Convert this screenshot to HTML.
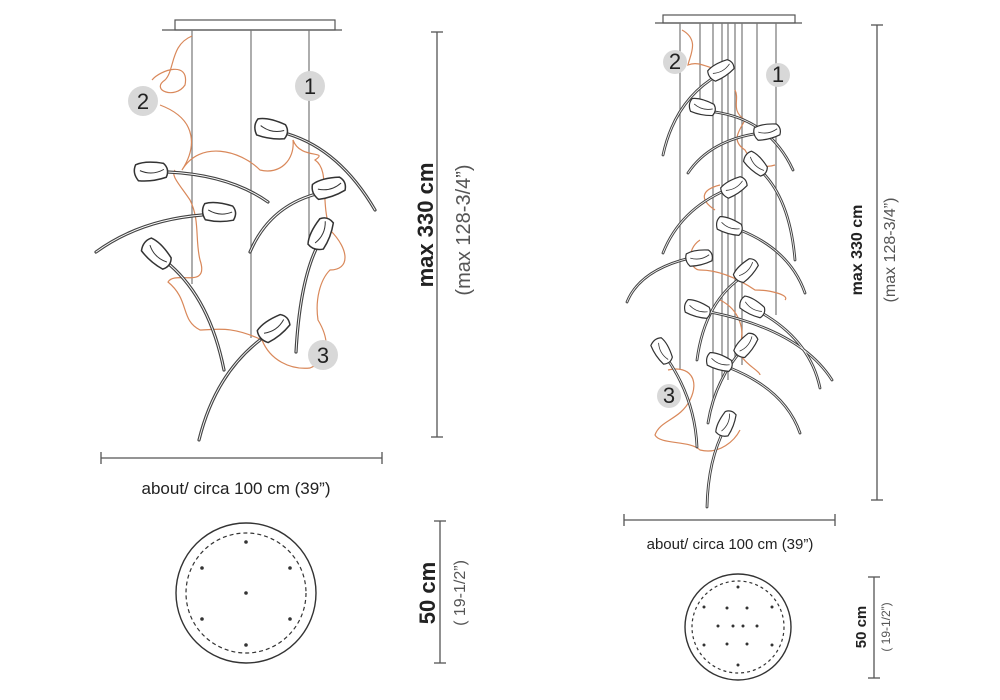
<!DOCTYPE html>
<html><head><style>
html,body{margin:0;padding:0;background:#fff;}
svg{display:block;font-family:"Liberation Sans",sans-serif;}
.w{stroke:#777;stroke-width:1.2;fill:none}
.o{stroke:#d9885a;stroke-width:1.2;fill:none}
.h{fill:#fff;stroke:#333;stroke-width:1.5}
.d{stroke:#555;stroke-width:1.3;fill:none}
.b{fill:#d8d8d8}
.bt{font-size:22px;fill:#222;text-anchor:middle}
</style></head><body>
<svg width="1000" height="700" viewBox="0 0 1000 700">
<defs>
<g id="fl"><path class="h" d="M-16,-8 Q-6,-12 12,-8 Q18,-2 14,6 Q0,10 -14,8 Q-20,0 -16,-8Z"/><path d="M-12,-2 Q0,4 12,-2" stroke="#333" stroke-width="1" fill="none"/></g>
<g id="stL">
<path d="M288,134 Q340,150 375,210"/><path d="M168,172 Q230,175 268,202"/><path d="M202,215 Q140,220 96,252"/><path d="M320,193 Q270,205 250,252"/><path d="M318,245 Q300,280 296,352"/><path d="M170,265 Q210,300 224,370"/><path d="M260,340 Q215,375 199,440"/>
</g>
<g id="stR">
<path d="M718,75 Q675,100 663,155"/><path d="M715,112 Q770,120 793,170"/><path d="M760,133 Q710,140 688,173"/><path d="M762,172 Q790,200 795,260"/><path d="M726,190 Q680,210 663,253"/><path d="M740,230 Q790,250 805,293"/><path d="M690,258 Q640,270 627,302"/><path d="M745,275 Q705,300 697,360"/><path d="M710,312 Q800,330 832,380"/><path d="M760,312 Q810,340 820,388"/><path d="M742,350 Q715,380 708,423"/><path d="M730,368 Q785,390 800,433"/><path d="M668,360 Q695,400 697,447"/><path d="M725,428 Q708,460 707,507"/>
</g>
</defs>

<!-- LEFT -->
<rect x="175" y="20" width="160" height="10" fill="#fff" stroke="#555" stroke-width="1.2"/>
<line x1="162" y1="30" x2="342" y2="30" stroke="#555" stroke-width="1.2"/>
<line class="w" x1="192" y1="30" x2="192" y2="284"/>
<line class="w" x1="251" y1="30" x2="251" y2="338"/>
<line class="w" x1="309" y1="30" x2="309" y2="240"/>
<path class="o" d="M192,36 C170,45 175,70 165,80 C150,90 175,100 185,85 C190,60 160,70 152,80 M160,105 C200,120 195,150 182,170 C200,140 240,150 260,170 C280,175 295,160 293,140 C300,160 330,150 315,160 C330,170 320,200 330,230 C350,250 350,270 330,270 C320,280 315,300 318,320 C330,340 330,360 310,368 C290,370 270,360 262,340 C230,325 215,330 200,330 C180,320 190,300 168,282 C175,270 210,290 200,260 C195,240 200,220 190,200 C180,185 170,175 175,170"/>
<use href="#stL" stroke="#444" stroke-width="3.2" fill="none" stroke-linecap="round"/>
<use href="#stL" stroke="#fff" stroke-width="0.9" fill="none" stroke-linecap="round"/>
<use href="#fl" transform="translate(272,130) rotate(12)"/>
<use href="#fl" transform="translate(152,172) rotate(-3)"/>
<use href="#fl" transform="translate(220,213) rotate(5)"/>
<use href="#fl" transform="translate(330,188) rotate(-15)"/>
<use href="#fl" transform="translate(322,233) rotate(-65)"/>
<use href="#fl" transform="translate(157,255) rotate(45)"/>
<use href="#fl" transform="translate(275,328) rotate(-35)"/>
<circle class="b" cx="310" cy="86" r="15"/><text x="310" y="94" class="bt">1</text>
<circle class="b" cx="143" cy="101" r="15"/><text x="143" y="109" class="bt">2</text>
<circle class="b" cx="323" cy="355" r="15"/><text x="323" y="363" class="bt">3</text>

<line class="d" x1="437" y1="32" x2="437" y2="437"/><line class="d" x1="431" y1="32" x2="443" y2="32"/><line class="d" x1="431" y1="437" x2="443" y2="437"/>
<text transform="translate(433,225) rotate(-90)" text-anchor="middle" font-size="22" font-weight="bold" fill="#222">max 330 cm</text>
<text transform="translate(470,230) rotate(-90)" text-anchor="middle" font-size="20" fill="#555">(max 128-3/4”)</text>
<line class="d" x1="101" y1="458" x2="382" y2="458"/><line class="d" x1="101" y1="452" x2="101" y2="464"/><line class="d" x1="382" y1="452" x2="382" y2="464"/>
<text x="236" y="494" text-anchor="middle" font-size="17" fill="#222">about/ circa 100 cm (39”)</text>
<circle cx="246" cy="593" r="70" fill="none" stroke="#333" stroke-width="1.4"/>
<circle cx="246" cy="593" r="60" fill="none" stroke="#333" stroke-width="1.2" stroke-dasharray="4,3"/>
<g fill="#333"><circle cx="246" cy="542" r="1.8"/><circle cx="246" cy="593" r="1.8"/><circle cx="246" cy="645" r="1.8"/><circle cx="202" cy="568" r="1.8"/><circle cx="290" cy="568" r="1.8"/><circle cx="202" cy="619" r="1.8"/><circle cx="290" cy="619" r="1.8"/></g>
<line class="d" x1="440" y1="521" x2="440" y2="663"/><line class="d" x1="434" y1="521" x2="446" y2="521"/><line class="d" x1="434" y1="663" x2="446" y2="663"/>
<text transform="translate(435,593) rotate(-90)" text-anchor="middle" font-size="22" font-weight="bold" fill="#222">50 cm</text>
<text transform="translate(465,593) rotate(-90)" text-anchor="middle" font-size="16" fill="#555">( 19-1/2”)</text>

<!-- RIGHT -->
<rect x="663" y="15" width="132" height="8" fill="#fff" stroke="#555" stroke-width="1.2"/>
<line x1="655" y1="23" x2="802" y2="23" stroke="#555" stroke-width="1.2"/>
<g class="w"><line x1="680" y1="23" x2="680" y2="370"/><line x1="700" y1="23" x2="700" y2="100"/><line x1="713" y1="23" x2="713" y2="400"/><line x1="722" y1="23" x2="722" y2="380"/><line x1="728" y1="23" x2="728" y2="380"/><line x1="735" y1="23" x2="735" y2="360"/><line x1="742" y1="23" x2="742" y2="365"/><line x1="757" y1="23" x2="757" y2="130"/><line x1="776" y1="23" x2="776" y2="315"/></g>
<path class="o" d="M682,30 C700,40 690,55 688,65 C700,60 710,70 722,70 M735,90 C740,100 730,110 745,120 C740,130 730,140 745,150 C750,160 760,170 775,165 M720,185 C700,190 700,200 715,210 M700,240 C685,250 690,270 700,270 C720,270 740,280 755,290 C770,290 790,295 785,300 M720,300 C740,310 745,330 740,345 C735,360 760,370 760,375 M668,370 C690,365 700,380 690,400 C680,420 660,420 655,435 C660,445 690,440 700,450 C720,455 735,440 740,430"/>
<use href="#stR" stroke="#444" stroke-width="2.8" fill="none" stroke-linecap="round"/>
<use href="#stR" stroke="#fff" stroke-width="0.8" fill="none" stroke-linecap="round"/>
<g transform="scale(0.8)">
<use href="#fl" transform="translate(902.5,87.5) rotate(-30)"/>
<use href="#fl" transform="translate(878.75,135) rotate(15)"/>
<use href="#fl" transform="translate(960,165) rotate(-10)"/>
<use href="#fl" transform="translate(945,206) rotate(45)"/>
<use href="#fl" transform="translate(918.75,233.75) rotate(-30)"/>
<use href="#fl" transform="translate(912.5,283.75) rotate(20)"/>
<use href="#fl" transform="translate(875,322.5) rotate(-10)"/>
<use href="#fl" transform="translate(933.75,337.5) rotate(-45)"/>
<use href="#fl" transform="translate(872.5,387.5) rotate(20)"/>
<use href="#fl" transform="translate(941,385) rotate(30)"/>
<use href="#fl" transform="translate(933.75,431) rotate(-50)"/>
<use href="#fl" transform="translate(900,453.75) rotate(20)"/>
<use href="#fl" transform="translate(827.5,440) rotate(60)"/>
<use href="#fl" transform="translate(908.75,528.75) rotate(-65)"/>
</g>
<circle class="b" cx="675" cy="62" r="12"/><text x="675" y="69" class="bt" font-size="18">2</text>
<circle class="b" cx="778" cy="75" r="12"/><text x="778" y="82" class="bt" font-size="18">1</text>
<circle class="b" cx="669" cy="396" r="12"/><text x="669" y="403" class="bt" font-size="18">3</text>

<line class="d" x1="877" y1="25" x2="877" y2="500"/><line class="d" x1="871" y1="25" x2="883" y2="25"/><line class="d" x1="871" y1="500" x2="883" y2="500"/>
<text transform="translate(862,250) rotate(-90)" text-anchor="middle" font-size="16" font-weight="bold" fill="#222">max 330 cm</text>
<text transform="translate(895,250) rotate(-90)" text-anchor="middle" font-size="16" fill="#555">(max 128-3/4”)</text>
<line class="d" x1="624" y1="520" x2="835" y2="520"/><line class="d" x1="624" y1="514" x2="624" y2="526"/><line class="d" x1="835" y1="514" x2="835" y2="526"/>
<text x="730" y="549" text-anchor="middle" font-size="15" fill="#222">about/ circa 100 cm (39”)</text>
<circle cx="738" cy="627" r="53" fill="none" stroke="#333" stroke-width="1.4"/>
<circle cx="738" cy="627" r="46" fill="none" stroke="#333" stroke-width="1.2" stroke-dasharray="3,3"/>
<g fill="#333"><circle cx="738" cy="587" r="1.5"/><circle cx="738" cy="665" r="1.5"/><circle cx="704" cy="607" r="1.5"/><circle cx="772" cy="607" r="1.5"/><circle cx="704" cy="645" r="1.5"/><circle cx="772" cy="645" r="1.5"/><circle cx="727" cy="608" r="1.5"/><circle cx="747" cy="608" r="1.5"/><circle cx="718" cy="626" r="1.5"/><circle cx="733" cy="626" r="1.5"/><circle cx="743" cy="626" r="1.5"/><circle cx="757" cy="626" r="1.5"/><circle cx="727" cy="644" r="1.5"/><circle cx="747" cy="644" r="1.5"/></g>
<line class="d" x1="874" y1="577" x2="874" y2="678"/><line class="d" x1="868" y1="577" x2="880" y2="577"/><line class="d" x1="868" y1="678" x2="880" y2="678"/>
<text transform="translate(866,627) rotate(-90)" text-anchor="middle" font-size="15" font-weight="bold" fill="#222">50 cm</text>
<text transform="translate(890,627) rotate(-90)" text-anchor="middle" font-size="12" fill="#555">( 19-1/2”)</text>
</svg>
</body></html>
